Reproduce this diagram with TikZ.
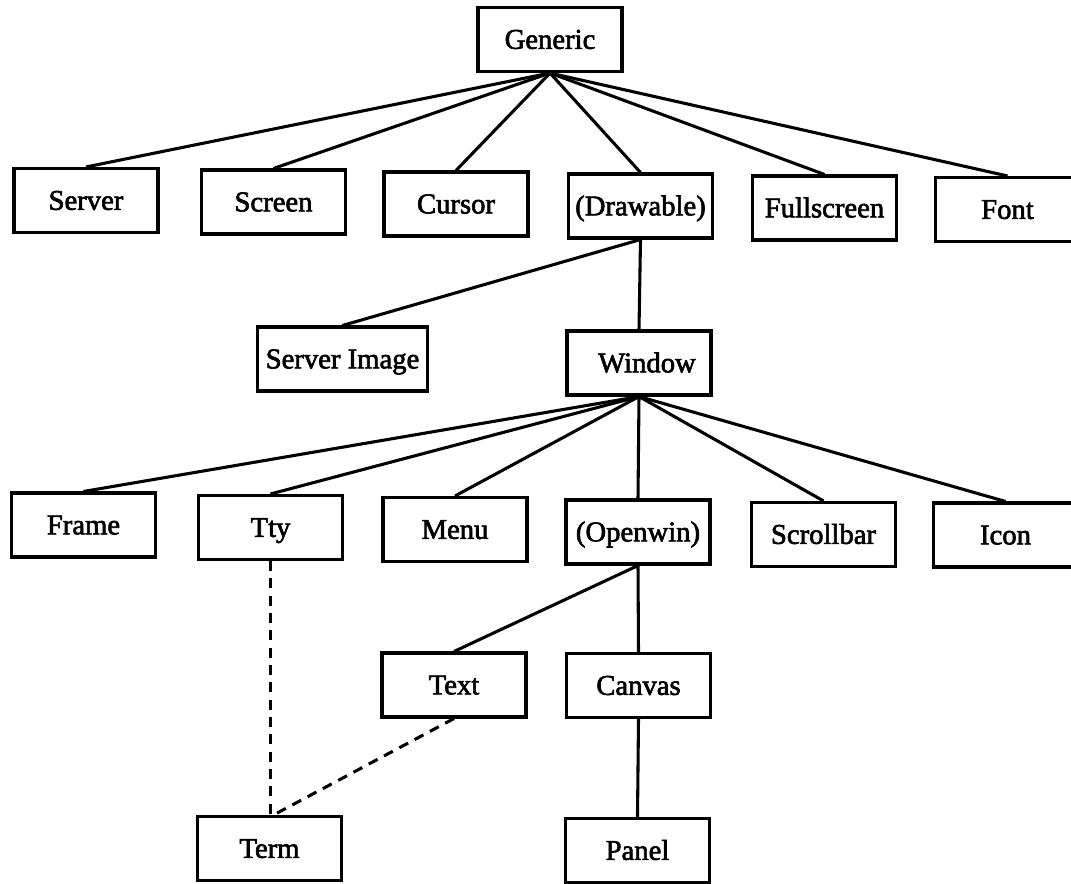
\documentclass[tikz,border=0pt]{standalone}
\usepackage{fontspec}
\setmainfont[FakeBold=2.2]{Liberation Serif}
\begin{document}
\begin{tikzpicture}[x=0.75pt,y=-0.75pt,
  cls/.style={draw,line width=2.3pt,minimum width=108pt,minimum height=48pt,
    inner sep=0pt,font=\fontsize{21.5}{24}\selectfont,
    text height=16pt,text depth=2pt},
  link/.style={line width=2.3pt},
  weak/.style={line width=2.3pt,dash pattern=on 7.5pt off 5.5pt}]
\useasboundingbox (0,0) rectangle (1071,883);
% root
\node[cls] (gen) at (550,39.5) {Generic};
% first level
\node[cls] (srv) at (86,200.5) {Server};
\node[cls] (scr) at (273.5,202) {Screen};
\node[cls] (cur) at (456,204) {Cursor};
\node[cls] (drw) at (640.5,206) {(Drawable)};
\node[cls] (fsc) at (824.5,208) {Fullscreen};
\node[cls] (fnt) at (1007.5,209.5) {Font};
% drawables
\node[cls,minimum width=127pt] (img) at (342.5,359) {Server Image};
\node[cls] (win) at (639,363) {\hspace*{12pt}Window};
% windows
\node[cls] (frm) at (83.5,525) {Frame};
\node[cls] (tty) at (270.5,527.5) {Tty};
\node[cls] (mnu) at (455,529.5) {Menu};
\node[cls] (opw) at (638,532) {(Openwin)};
\node[cls] (scb) at (823.5,534.5) {Scrollbar};
\node[cls] (icn) at (1005.5,535) {Icon};
% openwin subclasses
\node[cls] (txt) at (454,685) {Text};
\node[cls] (cnv) at (638.5,685.5) {Canvas};
\node[cls] (trm) at (269.5,848.5) {Term};
\node[cls] (pnl) at (637.5,850.5) {Panel};
% inheritance
\foreach \c in {srv,scr,cur,drw,fsc,fnt}
  \draw[link] (gen.south) -- (\c.north);
\draw[link] (drw.south) -- (img.north);
\draw[link] (drw.south) -- (win.north);
\foreach \c in {frm,tty,mnu,opw,scb,icn}
  \draw[link] (win.south) -- (\c.north);
\draw[link] (opw.south) -- (txt.north);
\draw[link] (opw.south) -- (cnv.north);
\draw[link] (cnv.south) -- (pnl.north);
% mixed-in ancestry
\draw[weak] (tty.south) -- (trm.north -| tty.south);
\draw[weak] (txt.south) -- ([xshift=3pt]trm.north);
\end{tikzpicture}
\end{document}
